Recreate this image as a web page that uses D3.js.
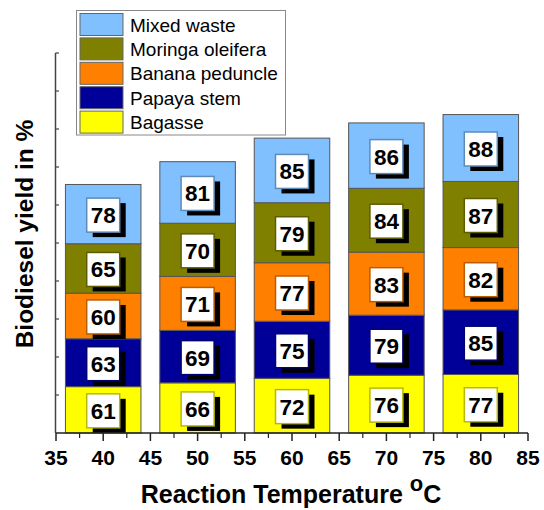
<!DOCTYPE html>
<html>
<head>
<meta charset="utf-8">
<script src="https://cdn.jsdelivr.net/npm/d3@7/dist/d3.min.js"></script>
<style>
html,body{margin:0;padding:0;background:#fff;}
svg{display:block;}
text{font-family:"Liberation Sans", Arial, sans-serif;}
</style>
</head>
<body>
<svg id="chart" width="544" height="510"></svg>
<script>
const temperatures = [40, 50, 60, 70, 80];
const seriesNames = ["Bagasse", "Papaya stem", "Banana peduncle", "Moringa oleifera", "Mixed waste"];
const bagasse = [61, 66, 72, 76, 77];
const papayaStem = [63, 69, 75, 79, 85];
const bananaPeduncle = [60, 71, 77, 83, 82];
const moringaOleifera = [65, 70, 79, 84, 87];
const mixedWaste = [78, 81, 85, 86, 88];
const seriesColors = ["#ffff00", "#000099", "#ff8000", "#808000", "#80c0ff"];
const xTicks = [35, 40, 45, 50, 55, 60, 65, 70, 75, 80, 85];

const seriesValues = [bagasse, papayaStem, bananaPeduncle, moringaOleifera, mixedWaste];
const table = temperatures.map((t, i) => {
  const row = {temp: t};
  seriesNames.forEach((n, k) => row[n] = seriesValues[k][i]);
  return row;
});

const svg = d3.select("#chart");
const x = d3.scaleLinear().domain([35, 85]).range([56, 528]);
const y = d3.scaleLinear().domain([0, 500]).range([433, 53]);
const color = d3.scaleOrdinal().domain(seriesNames).range(seriesColors);

const stack = d3.stack().keys(seriesNames);
const stacked = stack(table);
const barHalf = 4;

const layers = svg.append("g").selectAll("g").data(stacked).join("g")
  .attr("fill", d => color(d.key));
layers.selectAll("rect").data(d => d).join("rect")
  .attr("x", d => x(d.data.temp - barHalf))
  .attr("width", d => x(d.data.temp + barHalf) - x(d.data.temp - barHalf))
  .attr("y", d => y(d[1]))
  .attr("height", d => y(d[0]) - y(d[1]))
  .attr("stroke", "#555")
  .attr("stroke-width", 1);

// label boxes
const bw = 33, bh = 34;
stacked.forEach(layer => {
  const c = color(layer.key);
  const border = d3.color(c).darker(0.9).formatHex();
  const g = svg.append("g");
  layer.forEach(d => {
    const cx = x(d.data.temp);
    const cy = (y(d[0]) + y(d[1])) / 2 + 1;
    g.append("rect").attr("x", cx - bw/2 + 6).attr("y", cy - bh/2 + 5)
      .attr("width", bw).attr("height", bh).attr("fill", "#000");
    g.append("rect").attr("x", cx - bw/2).attr("y", cy - bh/2)
      .attr("width", bw).attr("height", bh).attr("fill", "#fff")
      .attr("stroke", border).attr("stroke-width", 1.5);
    g.append("text").attr("x", cx).attr("y", cy + 8)
      .attr("text-anchor", "middle").attr("font-size", 22.5).attr("font-weight", "bold")
      .attr("fill", "#000").text(d.data[layer.key]);
  });
});

// x axis
const xAxis = svg.append("g");
xAxis.append("line").attr("x1", x(35)).attr("x2", x(85)).attr("y1", 433).attr("y2", 433)
  .attr("stroke", "#222").attr("stroke-width", 1.5);
xTicks.forEach(t => {
  xAxis.append("line").attr("x1", x(t)).attr("x2", x(t)).attr("y1", 433).attr("y2", 441)
    .attr("stroke", "#222").attr("stroke-width", 1.5);
  xAxis.append("text").attr("x", x(t)).attr("y", 465).attr("text-anchor", "middle")
    .attr("font-size", 21).attr("font-weight", "bold").attr("fill", "#000").text(t);
});
xTicks.slice(0, -1).forEach(t => {
  xAxis.append("line").attr("x1", x(t + 2.5)).attr("x2", x(t + 2.5)).attr("y1", 433).attr("y2", 438)
    .attr("stroke", "#222").attr("stroke-width", 1.2);
});

// y axis (ticks without labels)
const yAxis = svg.append("g");
yAxis.append("line").attr("x1", 55.5).attr("x2", 55.5).attr("y1", y(0)).attr("y2", y(500))
  .attr("stroke", "#444").attr("stroke-width", 1.5);
d3.range(50, 501, 50).forEach(v => {
  yAxis.append("line").attr("x1", 55.5).attr("x2", 59).attr("y1", y(v)).attr("y2", y(v))
    .attr("stroke", "#444").attr("stroke-width", 1.2);
});

// axis titles
const xt = svg.append("text").attr("x", 291).attr("y", 503).attr("text-anchor", "middle")
  .attr("font-size", 25).attr("font-weight", "bold").attr("fill", "#000");
xt.append("tspan").text("Reaction Temperature ");
xt.append("tspan").attr("dy", -12).attr("font-size", 22).text("o");
xt.append("tspan").attr("dy", 12).text("C");

svg.append("text").attr("transform", "translate(33,234) rotate(-90)")
  .attr("text-anchor", "middle").attr("font-size", 24.5).attr("font-weight", "bold")
  .attr("fill", "#000").text("Biodiesel yield in %");

// legend
const lg = svg.append("g");
lg.append("rect").attr("x", 76.5).attr("y", 10.5).attr("width", 209).attr("height", 124.5)
  .attr("fill", "#fff").attr("stroke", "#888").attr("stroke-width", 1);
const legendOrder = seriesNames.slice().reverse();
legendOrder.forEach((n, i) => {
  const yy = 13.5 + i * 24.4;
  lg.append("rect").attr("x", 80).attr("y", yy).attr("width", 43).attr("height", 22)
    .attr("fill", color(n)).attr("stroke", "#666").attr("stroke-width", 1);
  lg.append("text").attr("x", 130).attr("y", yy + 18).attr("font-size", 19)
    .attr("fill", "#000").text(n);
});
</script>
</body>
</html>
